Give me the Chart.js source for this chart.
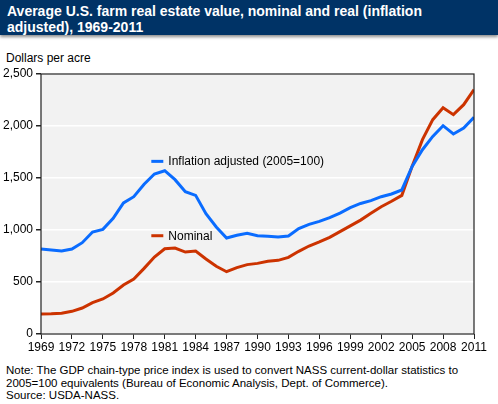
<!DOCTYPE html>
<html>
<head>
<meta charset="utf-8">
<script src="https://cdn.jsdelivr.net/npm/chart.js@4.4.0/dist/chart.umd.min.js"></script>
<style>
  body { margin: 0; background: #fff; font-family: Arial, "Liberation Sans", sans-serif; }
  #wrap { position: relative; width: 498px; height: 404px; overflow: hidden; }
  #title { position: absolute; left: 0; top: 0; width: 498px; height: 35px; background: #003366;
           box-shadow: 0 2px 3px rgba(0,0,0,0.45); color: #fff; font-weight: bold; font-size: 14px;
           line-height: 16px; padding: 3px 0 0 7px; box-sizing: border-box; }
  #ylabel { position: absolute; left: 6px; top: 51px; font-size: 12px; color: #000; }
  #chartBox { position: absolute; left: 0; top: 40px; width: 498px; height: 320px; }
  #note { position: absolute; left: 6px; top: 364px; font-size: 11.5px; line-height: 12.5px; color: #000; }
</style>
</head>
<body>
<div id="wrap">
  <div id="title">Average U.S. farm real estate value, nominal and real (inflation<br>adjusted), 1969-2011</div>
  <div id="ylabel">Dollars per acre</div>
  <div id="chartBox"><canvas id="farmChart" width="498" height="320"></canvas></div>
  <div id="note">Note: The GDP chain-type price index is used to convert NASS current-dollar statistics to<br>2005=100 equivalents (Bureau of Economic Analysis, Dept. of Commerce).<br>Source: USDA-NASS.</div>
</div>
<script>
'use strict';

var years = [1969, 1970, 1971, 1972, 1973, 1974, 1975, 1976, 1977, 1978,
             1979, 1980, 1981, 1982, 1983, 1984, 1985, 1986, 1987, 1988,
             1989, 1990, 1991, 1992, 1993, 1994, 1995, 1996, 1997, 1998,
             1999, 2000, 2001, 2002, 2003, 2004, 2005, 2006, 2007, 2008,
             2009, 2010, 2011];

var inflationAdjusted = [817, 808, 798, 817, 878, 981, 1006, 1112, 1260, 1320,
                         1440, 1538, 1570, 1484, 1369, 1333, 1157, 1029, 923, 949,
                         968, 945, 939, 933, 942, 1013, 1054, 1083, 1119, 1163,
                         1215, 1255, 1282, 1320, 1346, 1385, 1612, 1772, 1900, 2003,
                         1923, 1981, 2083];

var nominal = [192, 194, 199, 218, 250, 301, 337, 394, 471, 529,
               631, 740, 820, 827, 788, 798, 721, 651, 599, 638,
               667, 679, 699, 708, 737, 795, 846, 885, 929, 984,
               1040, 1095, 1160, 1224, 1276, 1333, 1612, 1869, 2061, 2176,
               2109, 2205, 2349];

var seriesLabels = ['Inflation adjusted (2005=100)', 'Nominal'];
var seriesColors = ['#0a6cff', '#cc3300'];
// where the in-plot legend entries sit, in data units (year, dollars)
var legendAnchors = [[1979.7, 1660], [1979.7, 945]];

function toPoints(values) {
    return years.map(function (y, i) { return { x: y, y: values[i] }; });
}

var plotFrame = {
    id: 'plotFrame',
    beforeDraw: function (chart) {
        var a = chart.chartArea, ctx = chart.ctx;
        ctx.save();
        ctx.fillStyle = '#f2f2f2';
        ctx.fillRect(a.left, a.top, a.right - a.left, a.bottom - a.top);
        ctx.restore();
    },
    afterDatasetsDraw: function (chart) {
        var a = chart.chartArea, ctx = chart.ctx;
        ctx.save();
        ctx.strokeStyle = '#222';
        ctx.lineWidth = 1.2;
        ctx.strokeRect(a.left, a.top, a.right - a.left, a.bottom - a.top);
        // legend inside plot
        var xs = chart.scales.x, ys = chart.scales.y;
        ctx.font = '12px Arial, "Liberation Sans", sans-serif';
        ctx.textBaseline = 'middle';
        ctx.fillStyle = '#000';
        legendAnchors.forEach(function (p, i) {
            var px = xs.getPixelForValue(p[0]);
            var py = ys.getPixelForValue(p[1]);
            ctx.strokeStyle = seriesColors[i];
            ctx.lineWidth = 3;
            ctx.beginPath();
            ctx.moveTo(px, py);
            ctx.lineTo(px + 12, py);
            ctx.stroke();
            ctx.fillText(seriesLabels[i], px + 17, py + 0.5);
        });
        ctx.restore();
    }
};

var farmChart = new Chart(document.getElementById('farmChart'), {
    type: 'line',
    data: {
        datasets: [
            {
                label: seriesLabels[0],
                data: toPoints(inflationAdjusted),
                borderColor: seriesColors[0],
                borderWidth: 3,
                pointRadius: 0,
                tension: 0
            },
            {
                label: seriesLabels[1],
                data: toPoints(nominal),
                borderColor: seriesColors[1],
                borderWidth: 3,
                pointRadius: 0,
                tension: 0
            }
        ]
    },
    options: {
        responsive: false,
        animation: false,
        layout: { padding: { top: 34, right: 24, left: 0, bottom: 0 } },
        plugins: { legend: { display: false }, tooltip: { enabled: false } },
        scales: {
            x: {
                type: 'linear',
                min: 1969,
                max: 2011,
                afterFit: function (s) { s.height = 26; },
                border: { display: false },
                grid: { drawOnChartArea: false, tickColor: '#222', tickLength: 5 },
                ticks: {
                    stepSize: 3,
                    color: '#000',
                    padding: 1,
                    maxRotation: 0,
                    font: { family: 'Arial, "Liberation Sans", sans-serif', size: 12 },
                    callback: function (v) { return String(v); }
                }
            },
            y: {
                min: 0,
                max: 2500,
                afterFit: function (s) { s.width = 41; },
                border: { display: false },
                grid: { color: '#ffffff', lineWidth: 1.5, tickColor: '#222', tickLength: 5 },
                ticks: {
                    stepSize: 500,
                    color: '#000',
                    padding: 3,
                    font: { family: 'Arial, "Liberation Sans", sans-serif', size: 12 }
                }
            }
        }
    },
    plugins: [plotFrame]
});
</script>
</body>
</html>
